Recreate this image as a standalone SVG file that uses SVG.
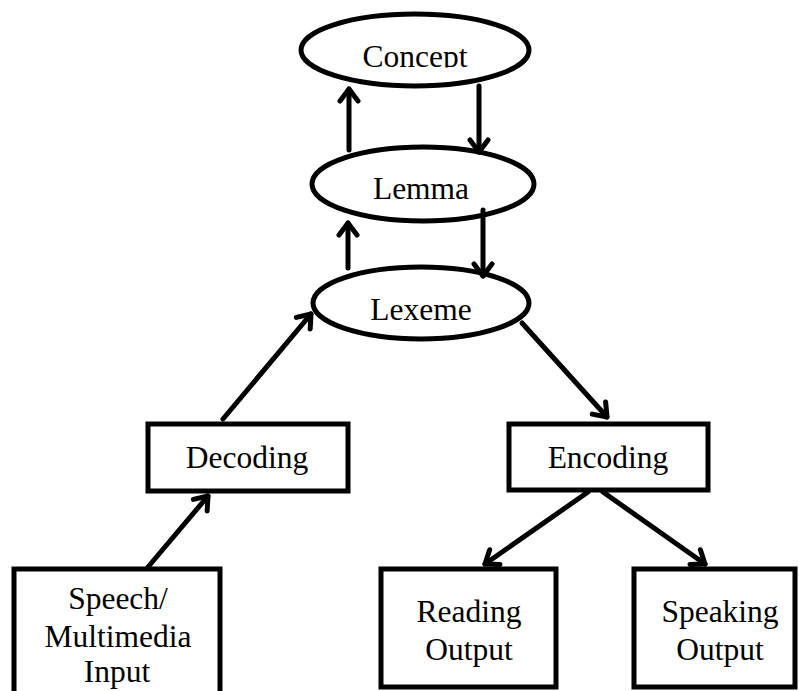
<svg xmlns="http://www.w3.org/2000/svg" width="799" height="691" viewBox="0 0 799 691">
  <style>
    .shape { fill: #ffffff; stroke: #000000; stroke-width: 5; }
    .lbl { font-family: "Liberation Serif", "Times New Roman", serif; font-size: 31.5px; fill: #000000; text-anchor: middle; }
    .conn line { stroke: #000000; stroke-width: 5; stroke-linecap: round; }
  </style>
  <defs>
    <marker id="arr" markerUnits="userSpaceOnUse" viewBox="-16 -12 20 24" refX="0" refY="0" markerWidth="20" markerHeight="24" orient="auto" overflow="visible">
      <path d="M-12,-9 L0,0 L-12,9" fill="none" stroke="#000000" stroke-width="5" stroke-linecap="round" stroke-linejoin="round"/>
    </marker>
    <clipPath id="clipConcept">
      <rect x="300" y="0" width="240" height="67.5"/>
    </clipPath>
  </defs>
  <rect x="0" y="0" width="799" height="691" fill="#ffffff"/>

  <g id="concept">
    <ellipse class="shape" cx="415" cy="50" rx="114" ry="36"/>
    <text class="lbl" x="415" y="67" clip-path="url(#clipConcept)">Concept</text>
  </g>
  <g id="lemma">
    <ellipse class="shape" cx="423" cy="184" rx="111" ry="37"/>
    <text class="lbl" x="421" y="199">Lemma</text>
  </g>
  <g id="lexeme">
    <ellipse class="shape" cx="421" cy="303" rx="108" ry="36"/>
    <text class="lbl" x="421" y="320">Lexeme</text>
  </g>
  <g id="decoding">
    <rect class="shape" x="148" y="424" width="200" height="67"/>
    <text class="lbl" x="247" y="468">Decoding</text>
  </g>
  <g id="encoding">
    <rect class="shape" x="509" y="424" width="199" height="66"/>
    <text class="lbl" x="608" y="468">Encoding</text>
  </g>
  <g id="speech">
    <rect class="shape" x="14" y="569" width="206" height="140"/>
    <text class="lbl" x="118" y="609">Speech/</text>
    <text class="lbl" x="118" y="647">Multimedia</text>
    <text class="lbl" x="117" y="682">Input</text>
  </g>
  <g id="reading">
    <rect class="shape" x="381" y="569" width="175" height="118"/>
    <text class="lbl" x="469" y="622">Reading</text>
    <text class="lbl" x="469" y="660">Output</text>
  </g>
  <g id="speaking">
    <rect class="shape" x="634" y="569" width="161" height="118"/>
    <text class="lbl" x="720" y="622">Speaking</text>
    <text class="lbl" x="720" y="660">Output</text>
  </g>

  <g id="connectors" class="conn">
    <line x1="349" y1="150" x2="349" y2="89" marker-end="url(#arr)"/>
    <line x1="479" y1="86" x2="479" y2="152" marker-end="url(#arr)"/>
    <line x1="348" y1="268" x2="348" y2="223" marker-end="url(#arr)"/>
    <line x1="483" y1="210" x2="483" y2="276" marker-end="url(#arr)"/>
    <line x1="223" y1="419" x2="311" y2="314" marker-end="url(#arr)"/>
    <line x1="522" y1="323" x2="607" y2="417" marker-end="url(#arr)"/>
    <line x1="148" y1="567" x2="208" y2="496" marker-end="url(#arr)"/>
    <line x1="588" y1="492" x2="485" y2="564" marker-end="url(#arr)"/>
    <line x1="603" y1="492" x2="705" y2="564" marker-end="url(#arr)"/>
  </g>
</svg>
